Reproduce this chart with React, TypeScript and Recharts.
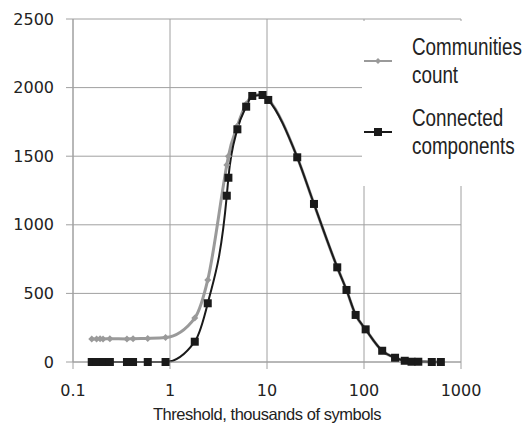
import React from "react"
import { LineChart, Line, XAxis, YAxis, CartesianGrid, Legend } from "recharts"

// threshold, thousands of symbols
const thresholds = [0.156, 0.175, 0.19, 0.204, 0.24, 0.36, 0.416, 0.59, 0.9, 1.8, 2.45, 3.85, 4.0, 4.95, 6.1, 7.05, 9.0, 10.3, 20.5, 30.5, 53, 66, 82, 104, 154, 209, 263, 309, 363, 500, 620]
const communities = [168, 168, 170, 168, 170, 168, 170, 172, 178, 320, 598, 1436, 1500, 1720, 1880, 1940, 1950, 1915, 1492, 1152, 690, 525, 343, 238, 82, 31, 9, 2, 2, 0, 0]
const components = [0, 0, 0, 0, 0, 0, 0, 0, 0, 148, 428, 1212, 1343, 1696, 1861, 1939, 1946, 1910, 1492, 1152, 690, 525, 343, 238, 82, 31, 9, 2, 2, 0, 0]
const xTicks = [0.1, 1, 10, 100, 1000]
const yTicks = [0, 500, 1000, 1500, 2000, 2500]
const legendItems = [
    { lines: ["Communities", "count"], kind: "diamond" },
    { lines: ["Connected", "components"], kind: "square" },
]

const data = thresholds.map((t, i) => ({
    threshold: t,
    communities: communities[i],
    components: components[i],
}))

const GRAY = "#9a9a9a"
const BLACK = "#1a1a1a"
const AXIS = "#a0a0a0"
const sans = "'Liberation Sans', Arial, sans-serif"

const Diamond = (props: any) => {
    const { cx, cy, index } = props
    if (cx == null || cy == null) return <g key={index} />
    const r = 3.5
    return <polygon key={index} points={`${cx},${cy - r} ${cx + r},${cy} ${cx},${cy + r} ${cx - r},${cy}`} fill={GRAY} />
}

const Square = (props: any) => {
    const { cx, cy, index } = props
    if (cx == null || cy == null) return <g key={index} />
    return <rect key={index} x={cx - 4} y={cy - 4} width={8} height={8} fill={BLACK} />
}

function LegendBox() {
    return (
        <svg width={163} height={165} style={{ display: "block" }}>
            {legendItems.map((item, i) => {
                const cy = 40 + i * 71
                const isGray = item.kind === "diamond"
                return (
                    <g key={i}>
                        <line x1={2} x2={30} y1={cy} y2={cy} stroke={isGray ? GRAY : BLACK} strokeWidth={2} />
                        {isGray
                            ? <polygon points={`16,${cy - 3} 19,${cy} 16,${cy + 3} 13,${cy}`} fill={GRAY} />
                            : <rect x={12} y={cy - 4} width={8} height={8} fill={BLACK} />}
                        {item.lines.map((t, j) => (
                            <g key={j} transform={`translate(50, ${cy - 6 + j * 28}) scale(0.82, 1)`}>
                                <text x={0} y={0} fontFamily={sans} fontSize={23} fill="#222">{t}</text>
                            </g>
                        ))}
                    </g>
                )
            })}
        </svg>
    )
}

export default function App() {
    return (
        <div style={{ position: "absolute", left: 0, top: 0, width: 525, height: 429, background: "#fff" }}>
            <LineChart width={525} height={429} data={data} margin={{ top: 19, right: 64, bottom: 0, left: 0 }}>
                <CartesianGrid stroke={AXIS} horizontalValues={yTicks} verticalValues={xTicks} />
                <XAxis
                    dataKey="threshold"
                    type="number"
                    scale="log"
                    domain={[0.1, 1000]}
                    ticks={xTicks}
                    allowDataOverflow
                    height={67}
                    stroke={AXIS}
                    tickSize={7}
                    tickMargin={16}
                    tick={{ fill: "#222", fontSize: 16, fontFamily: "'DejaVu Sans', sans-serif" }}
                    label={{ value: "Threshold, thousands of symbols", position: "insideBottom", offset: 9, style: { fill: "#222", fontSize: 16.5, letterSpacing: -0.45, fontFamily: sans } }}
                />
                <YAxis
                    type="number"
                    domain={[0, 2500]}
                    ticks={yTicks}
                    width={73}
                    stroke={AXIS}
                    tickSize={7}
                    tickMargin={12}
                    tick={{ fill: "#222", fontSize: 16, fontFamily: "'DejaVu Sans', sans-serif" }}
                />
                <Legend
                    layout="vertical"
                    align="center"
                    verticalAlign="middle"
                    content={() => <LegendBox />}
                    wrapperStyle={{ left: 362, top: 21, width: 163, height: 165, backgroundColor: "#fff" }}
                />
                <Line
                    type="monotone"
                    dataKey="communities"
                    name="Communities count"
                    stroke={GRAY}
                    strokeWidth={3}
                    dot={Diamond}
                    activeDot={false}
                    isAnimationActive={false}
                />
                <Line
                    type="monotone"
                    dataKey="components"
                    name="Connected components"
                    stroke={BLACK}
                    strokeWidth={2}
                    dot={Square}
                    activeDot={false}
                    isAnimationActive={false}
                />
            </LineChart>
        </div>
    )
}
